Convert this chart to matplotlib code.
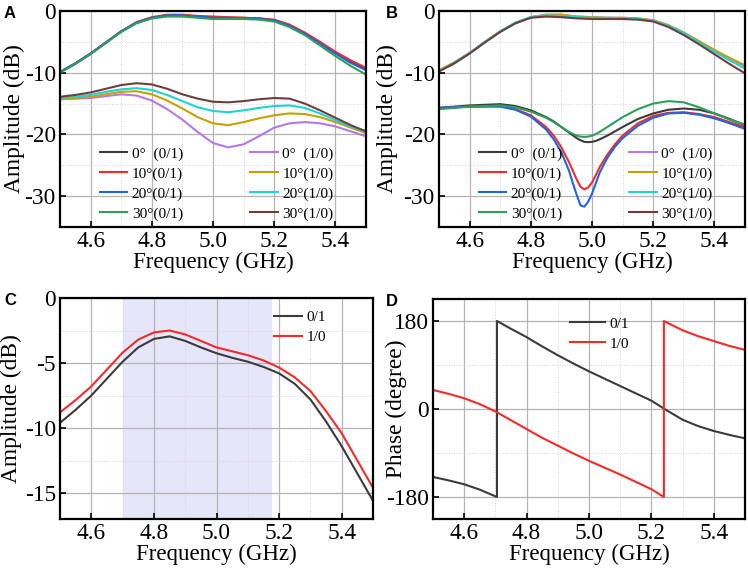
import numpy as np
import matplotlib
matplotlib.use('Agg')
from matplotlib import pyplot as plt
from matplotlib.ticker import MultipleLocator

plt.rcParams['font.family'] = ['Liberation Serif', 'DejaVu Serif']
plt.rcParams['axes.unicode_minus'] = False

# frequency grids (GHz)
freq = [4.50, 4.55, 4.60, 4.65, 4.70, 4.75, 4.80, 4.85, 4.90, 4.95, 5.00,
        5.05, 5.10, 5.15, 5.20, 5.25, 5.30, 5.35, 5.40, 5.45, 5.50]
freq_b = [4.50, 4.55, 4.60, 4.65, 4.70, 4.75, 4.80, 4.85, 4.875, 4.90, 4.925,
          4.9375, 4.95, 4.9625, 4.975, 4.9875, 5.00, 5.0125, 5.025, 5.05, 5.075,
          5.10, 5.15, 5.20, 5.25, 5.30, 5.35, 5.40, 5.45, 5.50]

labels_01 = ['0°  (0/1)', '10°(0/1)', '20°(0/1)', '30°(0/1)']
labels_10 = ['0°  (1/0)', '10°(1/0)', '20°(1/0)', '30°(1/0)']
colors_01 = ['#3b3b3b', '#f42a2a', '#1f63e6', '#2e9e5a']
colors_10 = ['#b777e8', '#c9a000', '#1fd3d3', '#6e3e3e']

# panel A, 0/1 state (upper curves)
a_01 = [
    [-9.9, -8.5, -6.9, -5.1, -3.3, -1.9, -1.1, -0.7, -0.7, -0.9, -1.0,
     -1.1, -1.1, -1.2, -1.5, -2.3, -3.6, -5.2, -6.8, -8.2, -9.4],
    [-9.9, -8.5, -6.9, -5.1, -3.3, -1.8, -1.0, -0.6, -0.6, -0.8, -0.9,
     -1.0, -1.1, -1.2, -1.4, -2.2, -3.5, -5.0, -6.6, -8.0, -9.2],
    [-9.9, -8.5, -6.9, -5.1, -3.3, -1.9, -1.1, -0.7, -0.7, -0.9, -1.1,
     -1.1, -1.2, -1.3, -1.5, -2.4, -3.7, -5.3, -6.9, -8.4, -9.6],
    [-10.0, -8.6, -7.0, -5.2, -3.4, -2.0, -1.2, -0.9, -0.9, -1.1, -1.3,
     -1.3, -1.3, -1.4, -1.7, -2.6, -3.9, -5.6, -7.3, -8.9, -10.3],
]
# panel A, 1/0 state (lower curves)
a_10 = [
    [-14.3, -14.2, -14.1, -13.8, -13.5, -13.7, -14.5, -15.9, -17.6, -19.6, -21.4,
     -22.1, -21.6, -20.3, -18.9, -18.2, -18.0, -18.2, -18.7, -19.5, -20.3],
    [-14.2, -14.1, -13.9, -13.5, -13.1, -13.0, -13.5, -14.5, -15.8, -17.2, -18.2,
     -18.5, -18.0, -17.4, -16.9, -16.6, -16.7, -17.2, -18.0, -18.9, -19.8],
    [-14.1, -13.9, -13.6, -13.1, -12.7, -12.5, -12.8, -13.6, -14.6, -15.6, -16.2,
     -16.4, -16.1, -15.7, -15.4, -15.3, -15.7, -16.6, -17.7, -18.7, -19.6],
    [-13.9, -13.6, -13.2, -12.6, -12.0, -11.7, -11.9, -12.6, -13.5, -14.2, -14.7,
     -14.8, -14.6, -14.3, -14.1, -14.2, -15.0, -16.1, -17.3, -18.5, -19.5],
]

# panel B, 0/1 state (lower curves, finer grid round the dip)
b_01 = [
    [-15.7, -15.5, -15.3, -15.2, -15.1, -15.4, -16.1, -17.2, -17.9, -18.8, -19.7,
     -20.15, -20.6, -20.95, -21.2, -21.25, -21.2, -21.05, -20.8, -20.2, -19.5,
     -18.8, -17.5, -16.6, -16.0, -15.8, -16.0, -16.6, -17.5, -18.5],
    [-15.7, -15.6, -15.5, -15.4, -15.4, -15.9, -16.9, -18.8, -20.2, -22.1, -24.5,
     -25.9, -27.3, -28.5, -28.9, -28.6, -27.8, -26.6, -25.3, -23.3, -21.6,
     -20.2, -18.2, -17.0, -16.5, -16.4, -16.7, -17.2, -18.0, -18.8],
    [-15.7, -15.6, -15.5, -15.5, -15.5, -16.0, -17.1, -19.2, -20.8, -22.9, -25.9,
     -27.9, -29.8, -31.5, -31.7, -30.9, -29.6, -27.9, -26.2, -23.8, -22.0,
     -20.6, -18.6, -17.3, -16.6, -16.5, -16.8, -17.4, -18.2, -19.1],
    [-15.9, -15.7, -15.5, -15.4, -15.3, -15.6, -16.3, -17.3, -18.0, -18.8, -19.6,
     -19.9, -20.2, -20.35, -20.4, -20.35, -20.2, -19.95, -19.6, -18.8, -18.0,
     -17.2, -15.9, -15.0, -14.6, -14.8, -15.6, -16.6, -17.6, -18.4],
]
# panel B, 1/0 state (upper curves)
b_10 = [
    [-9.7, -8.4, -6.8, -5.0, -3.3, -1.9, -1.0, -0.6, -0.6, -0.9, -1.0,
     -1.1, -1.1, -1.2, -1.5, -2.3, -3.5, -4.9, -6.4, -7.7, -8.9],
    [-9.6, -8.3, -6.8, -5.0, -3.3, -1.9, -1.0, -0.6, -0.6, -0.9, -1.0,
     -1.1, -1.1, -1.2, -1.5, -2.3, -3.5, -4.9, -6.3, -7.6, -8.8],
    [-9.7, -8.4, -6.8, -5.0, -3.3, -1.9, -1.0, -0.7, -0.8, -1.0, -1.1,
     -1.1, -1.2, -1.3, -1.6, -2.4, -3.6, -5.1, -6.6, -8.0, -9.3],
    [-9.8, -8.5, -6.9, -5.1, -3.4, -2.0, -1.1, -0.9, -1.0, -1.2, -1.3,
     -1.3, -1.3, -1.4, -1.7, -2.6, -3.9, -5.4, -7.0, -8.6, -10.1],
]

# panel C
c_01 = [-9.6, -8.6, -7.5, -6.2, -4.9, -3.8, -3.15, -2.95, -3.3, -3.8, -4.25,
        -4.6, -4.9, -5.3, -5.8, -6.6, -7.8, -9.5, -11.4, -13.5, -15.6]
c_10 = [-8.8, -7.85, -6.8, -5.5, -4.2, -3.2, -2.65, -2.5, -2.8, -3.3, -3.8,
        -4.1, -4.4, -4.8, -5.35, -6.1, -7.15, -8.7, -10.4, -12.5, -14.6]
band = [4.70, 5.175]

# panel D, phase (with the wrap points)
d_f01 = [4.50, 4.55, 4.60, 4.65, 4.705, 4.705, 4.75, 4.80, 4.85, 4.90, 4.95,
         5.00, 5.05, 5.10, 5.15, 5.20, 5.25, 5.30, 5.35, 5.40, 5.45, 5.50]
d_p01 = [-139, -146, -154, -165, -180, 180, 164, 147, 128, 110, 93,
         77, 62, 47, 32, 17, -3, -22, -35, -45, -53, -60]
d_f10 = [4.50, 4.55, 4.60, 4.65, 4.70, 4.75, 4.80, 4.85, 4.90, 4.95, 5.00,
         5.05, 5.10, 5.15, 5.20, 5.24, 5.24, 5.30, 5.35, 5.40, 5.45, 5.50]
d_p10 = [39, 31, 22, 10, -5, -23, -41, -59, -75, -91, -106,
         -120, -134, -149, -164, -180, 180, 161, 149, 139, 129, 121]


def style(ax, ylim, ymaj, ymin, ylabel, ylab_x):
    ax.set_xlim(4.5, 5.5)
    ax.set_ylim(*ylim)
    ax.xaxis.set_major_locator(MultipleLocator(0.2))
    ax.xaxis.set_minor_locator(MultipleLocator(0.1))
    ax.yaxis.set_major_locator(MultipleLocator(ymaj))
    ax.yaxis.set_minor_locator(MultipleLocator(ymin))
    ax.grid(which='major', color='#b4b4b4', lw=0.9)
    ax.grid(which='minor', color='#d4d4d4', lw=0.7, ls=':')
    ax.set_axisbelow(True)
    ax.tick_params(which='major', direction='in', length=4, width=1.2,
                   labelsize=16.8, top=False, right=False, pad=3)
    ax.tick_params(which='minor', length=0)
    for s in ax.spines.values():
        s.set_linewidth(1.6)
    ax.set_xlabel('Frequency (GHz)', fontsize=16.5, labelpad=0)
    ax.set_ylabel(ylabel, fontsize=16.8)
    ax.yaxis.set_label_coords(ylab_x, 0.5)
    ax.xaxis.set_major_formatter(plt.FormatStrFormatter('%.1f'))


leg_kw = dict(frameon=False, fontsize=11, handlelength=1.8,
              labelspacing=0.4, handletextpad=0.3)

fig = plt.figure(figsize=(7.48, 5.74), dpi=100)
axA = fig.add_axes([60/748, 1-227/574, 306/748, 216/574])
axB = fig.add_axes([439/748, 1-227/574, 306/748, 216/574])
axC = fig.add_axes([60/748, 1-519/574, 313/748, 221/574])
axD = fig.add_axes([433/748, 1-519/574, 312/748, 220/574])

for i in range(4):
    axA.plot(freq, a_01[i], color=colors_01[i], lw=1.5, label=labels_01[i])
for i in range(4):
    axA.plot(freq, a_10[i], color=colors_10[i], lw=1.5, label=labels_10[i])
style(axA, (-35, 0), 10, 5, 'Amplitude (dB)', -0.114)
axA.legend(ncol=2, loc='lower left', bbox_to_anchor=(0.085, -0.035),
           columnspacing=4.4, **leg_kw)

for i in range(4):
    axB.plot(freq_b, b_01[i], color=colors_01[i], lw=1.5, label=labels_01[i])
for i in range(4):
    axB.plot(freq, b_10[i], color=colors_10[i], lw=1.5, label=labels_10[i])
style(axB, (-35, 0), 10, 5, 'Amplitude (dB)', -0.133)
axB.legend(ncol=2, loc='lower left', bbox_to_anchor=(0.085, -0.035),
           columnspacing=4.4, **leg_kw)

axC.axvspan(band[0], band[1], color='#e6e6fa', zorder=0.5)
axC.plot(freq, c_01, color=colors_01[0], lw=1.5, label='0/1')
axC.plot(freq, c_10, color=colors_01[1], lw=1.5, label='1/0')
style(axC, (-17, 0), 5, 2.5, 'Amplitude (dB)', -0.122)
axC.legend(loc='upper right', bbox_to_anchor=(0.894, 1.005), **leg_kw)

axD.plot(d_f01, d_p01, color=colors_01[0], lw=1.5, label='0/1')
axD.plot(d_f10, d_p10, color=colors_01[1], lw=1.5, label='1/0')
style(axD, (-225, 225), 180, 90, 'Phase (degree)', -0.082)
axD.legend(loc='upper left', bbox_to_anchor=(0.395, 0.98),
           **dict(leg_kw, handlelength=2.3))

for ax, letter in zip([axA, axB, axC, axD], 'ABCD'):
    pos = ax.get_position()
    x0 = 4/748 if letter in 'AC' else 386/748
    fig.text(x0, pos.y1 + 0.008, letter, fontsize=12, fontweight='bold',
             family='Liberation Sans', va='top', ha='left')

fig.savefig('out.png', dpi=100)
